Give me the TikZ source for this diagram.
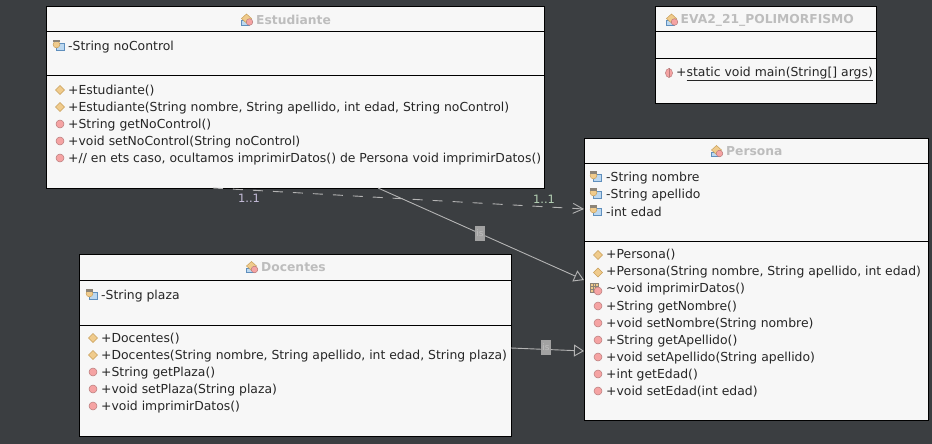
\documentclass[tikz,border=0pt]{standalone}
\usepackage{fontspec}
\setmainfont{DejaVu Sans}
\usetikzlibrary{calc,arrows.meta}
\definecolor{bgc}{HTML}{3B3E41}
\definecolor{boxc}{HTML}{F7F7F7}
\definecolor{titlec}{HTML}{BDBDBD}
\definecolor{linkc}{HTML}{B4B4B4}
\definecolor{labl}{HTML}{C4BCD8}
\definecolor{labr}{HTML}{B4D0B4}
\definecolor{markc}{HTML}{A2A2A2}
\definecolor{icblue}{HTML}{BCD8F0}
\definecolor{icblued}{HTML}{5F8FBD}
\definecolor{icor}{HTML}{F0CB8C}
\definecolor{icord}{HTML}{C9A05A}
\definecolor{icred}{HTML}{F5A3A3}
\definecolor{icredd}{HTML}{B87C7C}
\definecolor{icgr}{HTML}{8C8478}
\tikzset{
  x=1pt,y=-1pt,
  umlbox/.style={draw=black,line width=1pt,fill=boxc,inner sep=0pt,outer sep=0pt},
  sepline/.style={draw=black,line width=1pt},
  rowtext/.style={anchor=west,inner sep=0pt,font=\fontsize{12.4}{14}\selectfont,text=black!85},
  titletext/.style={anchor=west,inner sep=0pt,font=\fontsize{12.3}{14}\selectfont\bfseries,text=titlec},
  linklabel/.style={inner sep=0pt,font=\fontsize{11.5}{13}\selectfont},
  linkline/.style={draw=linkc,line width=.9pt},
  markbox/.style={fill=markc,inner sep=0pt,minimum width=10pt,minimum height=15pt,text=titlec,font=\fontsize{9}{10}\selectfont},
  pics/fieldicon/.style={code={
    \fill[fill=icblue,draw=icblued,line width=.5pt] (-2,-3) rectangle (6.5,4);
    \fill[fill=icor,draw=icord,line width=.5pt] (-1.5,-1.5) circle (3.4);
    \fill[icgr] (-5,-6) rectangle (2,-3.5);
  }},
  pics/ctoricon/.style={code={
    \fill[fill=icor,draw=icord,line width=.4pt] (-4.5,0)--(0,-4.5)--(4.5,0)--(0,4.5)--cycle;
  }},
  pics/methicon/.style={code={
    \fill[fill=icred,draw=icredd,line width=.5pt] (0,0) circle (4);
  }},
  pics/staticicon/.style={code={
    \fill[fill=icred,draw=icredd,line width=.5pt] (0,0) ellipse (3.5 and 4.5);
    \draw[icredd,line width=.4pt] (0,-4.5)--(0,4.5);
  }},
  pics/overicon/.style={code={
    \fill[fill=icor,draw=icgr,line width=.5pt] (-8,-6) rectangle (0,3);
    \draw[icgr,line width=.4pt] (-5.3,-6)--(-5.3,3) (-2.6,-6)--(-2.6,3) (-8,-3)--(0,-3) (-8,0)--(0,0);
    \fill[fill=icred,draw=icredd,line width=.5pt] (0,2) circle (4);
  }},
  pics/classicon/.style={code={
    \fill[fill=icblue,draw=icblued,line width=.5pt] (-5,1) rectangle (3,5.5);
    \fill[fill=icor,draw=icord,line width=.5pt] (-4.5,-1)--(.5,-5.5)--(5.5,-1)--(.5,3.5)--cycle;
    \fill[fill=icred,draw=icredd,line width=.5pt] (3.5,2.5) circle (3.3);
  }},
}
\begin{document}
\begin{tikzpicture}
\useasboundingbox[fill=bgc] (0,0) rectangle (932,444);

% class boxes
\node[umlbox,minimum width=498pt,minimum height=181pt] (est) at (295,97.5) {};
\node[umlbox,minimum width=221pt,minimum height=96pt] (eva) at (765.5,55) {};
\node[umlbox,minimum width=344pt,minimum height=282pt] (per) at (756,279) {};
\node[umlbox,minimum width=432pt,minimum height=182pt] (doc) at (295,345) {};

% compartments
\draw[sepline] (est.west |- 0,32) -- (est.east |- 0,32);
\draw[sepline] (est.west |- 0,76) -- (est.east |- 0,76);
\draw[sepline] (eva.west |- 0,32) -- (eva.east |- 0,32);
\draw[sepline] (eva.west |- 0,59) -- (eva.east |- 0,59);
\draw[sepline] (per.west |- 0,163) -- (per.east |- 0,163);
\draw[sepline] (per.west |- 0,241) -- (per.east |- 0,241);
\draw[sepline] (doc.west |- 0,280) -- (doc.east |- 0,280);
\draw[sepline] (doc.west |- 0,325) -- (doc.east |- 0,325);

% titles
\pic at (246,19.5) {classicon}; \node[titletext] (t1) at (256,20) {Estudiante};
\pic at (671,19.5) {classicon}; \node[titletext] (t2) at (680.5,20) {EVA2\_21\_POLIMORFISMO};
\pic at (716,151) {classicon}; \node[titletext] (t3) at (726,151) {Persona};
\pic at (251,267) {classicon}; \node[titletext] (t4) at (261,267.5) {Docentes};

% Estudiante
\pic at (58,46) {fieldicon}; \node[rowtext] (e0) at (68,47) {-String noControl};
\pic at (60,90) {ctoricon}; \node[rowtext] (e1) at (68,91) {+Estudiante()};
\pic at (60,107) {ctoricon}; \node[rowtext] (e2) at (68,108) {+Estudiante(String nombre, String apellido, int edad, String noControl)};
\pic at (60,124) {methicon}; \node[rowtext] (e3) at (68,125) {+String getNoControl()};
\pic at (60,141) {methicon}; \node[rowtext] (e4) at (68,142) {+void setNoControl(String noControl)};
\pic at (60,158) {methicon}; \node[rowtext] (e5) at (68,159) {+// en ets caso, ocultamos imprimirDatos() de Persona void imprimirDatos()};

% EVA2
\pic at (669,73) {staticicon}; \node[rowtext] (m1) at (676,74) {+\underline{static void main(String[] args)}};

% Persona
\pic at (595,177) {fieldicon}; \node[rowtext] (p0) at (606,178) {-String nombre};
\pic at (595,194) {fieldicon}; \node[rowtext] (p1) at (606,195) {-String apellido};
\pic at (595,211) {fieldicon}; \node[rowtext] (p2) at (606,212) {-int edad};
\pic at (598,255) {ctoricon}; \node[rowtext] (p3) at (606,255) {+Persona()};
\pic at (598,272.5) {ctoricon}; \node[rowtext] (p4) at (606,272.5) {+Persona(String nombre, String apellido, int edad)};
\pic at (598,289) {overicon}; \node[rowtext] (p5) at (606,289.5) {\textasciitilde void imprimirDatos()};
\pic at (598,306) {methicon}; \node[rowtext] (p6) at (606,307) {+String getNombre()};
\pic at (598,323) {methicon}; \node[rowtext] (p7) at (606,324) {+void setNombre(String nombre)};
\pic at (598,340) {methicon}; \node[rowtext] (p8) at (606,341) {+String getApellido()};
\pic at (598,357) {methicon}; \node[rowtext] (p9) at (606,358) {+void setApellido(String apellido)};
\pic at (598,374) {methicon}; \node[rowtext] (p10) at (606,375) {+int getEdad()};
\pic at (598,391) {methicon}; \node[rowtext] (p11) at (606,392) {+void setEdad(int edad)};

% Docentes
\pic at (91,295) {fieldicon}; \node[rowtext] (d0) at (101,296) {-String plaza};
\pic at (93,338) {ctoricon}; \node[rowtext] (d1) at (101,339) {+Docentes()};
\pic at (93,355) {ctoricon}; \node[rowtext] (d2) at (101,356) {+Docentes(String nombre, String apellido, int edad, String plaza)};
\pic at (93,372) {methicon}; \node[rowtext] (d3) at (101,373) {+String getPlaza()};
\pic at (93,389) {methicon}; \node[rowtext] (d4) at (101,390) {+void setPlaza(String plaza)};
\pic at (93,406) {methicon}; \node[rowtext] (d5) at (101,407) {+void imprimirDatos()};

% connectors
\draw[linkline,dash pattern=on 10pt off 10pt,-{Straight Barb[length=10pt,width=10pt]}]
  (est.south west -| 213,0) -- (per.west |- 0,209);
\draw[linkline,-{Triangle[open,length=10pt,width=12pt,fill=none]}]
  (est.south west -| 378,0) -- (per.west |- 0,280);
\draw[linkline,-{Triangle[open,length=10pt,width=12pt,fill=none]}]
  (doc.east |- 0,348) -- (per.west |- 0,351);

% connector markers and labels
\node[markbox] (s1) at (480,233.5) {is};
\node[markbox] (s2) at (546,347) {is};
\node[linklabel,text=labl] (l1) at (249,198) {1..1};
\node[linklabel,text=labr] (l2) at (544,199) {1..1};
\end{tikzpicture}
\end{document}
